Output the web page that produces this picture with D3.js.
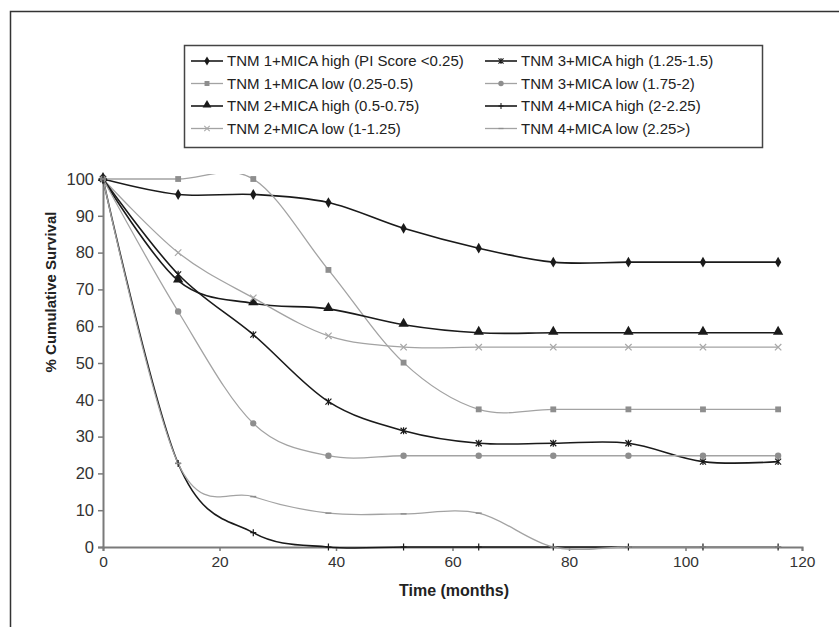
<!DOCTYPE html>
<html>
<head>
<meta charset="utf-8">
<script src="https://cdn.jsdelivr.net/npm/d3@7"></script>
<style>
  html, body { margin: 0; padding: 0; background: #fff; }
  svg { display: block; font-family: "Liberation Sans", Arial, sans-serif; }
</style>
</head>
<body>
<svg id="chart" width="839" height="627"></svg>
<script>
// Follow-up times (months)
const months = [0, 12.9, 25.8, 38.7, 51.6, 64.5, 77.3, 90.2, 103, 115.9];

// Cumulative survival (%) per PI score group
const tnm1High = [100, 95.8, 95.8, 93.6, 86.6, 81.2, 77.4, 77.4, 77.4, 77.4];
const tnm1Low  = [100, 100, 100, 75.3, 50.1, 37.4, 37.4, 37.4, 37.4, 37.4];
const tnm2High = [100, 72.4, 66.2, 64.7, 60.4, 58.2, 58.2, 58.2, 58.2, 58.2];
const tnm2Low  = [100, 80.0, 67.7, 57.4, 54.3, 54.3, 54.3, 54.3, 54.3, 54.3];
const tnm3High = [100, 74.1, 57.7, 39.5, 31.6, 28.2, 28.2, 28.2, 23.2, 23.2];
const tnm3Low  = [100, 64.0, 33.6, 24.8, 24.8, 24.8, 24.8, 24.8, 24.8, 24.8];
const tnm4High = [100, 22.7, 3.9, 0, 0, 0, 0, 0, 0, 0];
const tnm4Low  = [100, 22.7, 13.7, 9.2, 9.0, 9.2, 0, 0, 0, 0];

const seriesNames = [
  "TNM 1+MICA high (PI Score <0.25)",
  "TNM 1+MICA low (0.25-0.5)",
  "TNM 2+MICA high (0.5-0.75)",
  "TNM 2+MICA low (1-1.25)",
  "TNM 3+MICA high (1.25-1.5)",
  "TNM 3+MICA low (1.75-2)",
  "TNM 4+MICA high (2-2.25)",
  "TNM 4+MICA low (2.25>)"
];
const seriesValues = [tnm1High, tnm1Low, tnm2High, tnm2Low, tnm3High, tnm3Low, tnm4High, tnm4Low];
const markerKinds = ["diamond", "square", "triangle", "x", "star", "circle", "plus", "dash"];

const xTicks = [0, 20, 40, 60, 80, 100, 120];
const yTicks = [0, 10, 20, 30, 40, 50, 60, 70, 80, 90, 100];

const BLACK = "#1a1a1a";
const GRAY_LINE = "#a3a3a3";
const GRAY_MARK = "#8e8e8e";
const isDark = i => i % 2 === 0;

const svg = d3.select("#chart");

// outer frame (top and left edges)
svg.append("path")
  .attr("d", "M10.5,627 L10.5,11.5 L839,11.5")
  .attr("fill", "none").attr("stroke", "#333").attr("stroke-width", 1.5);

const x = d3.scaleLinear().domain([0, 120]).range([103, 802]);
const y = d3.scaleLinear().domain([0, 100]).range([547, 179]);

// clipping region for the smoothed curves
svg.append("defs").append("clipPath").attr("id", "plotClip")
  .append("rect").attr("x", x(0)).attr("y", 174)
  .attr("width", x(120) - x(0) + 4).attr("height", y(0) - 174 + 3);

// axes
const axisColor = "#7a7a7a";
const xAxis = svg.append("g").attr("transform", `translate(0,${y(0)})`)
  .call(d3.axisBottom(x).tickValues(xTicks).tickSize(4).tickPadding(5));
const yAxis = svg.append("g").attr("transform", `translate(${x(0)},0)`)
  .call(d3.axisLeft(y).tickValues(yTicks).tickSize(5).tickPadding(4));
[xAxis, yAxis].forEach(a => {
  a.select(".domain").attr("stroke", axisColor).attr("stroke-width", 2);
  a.selectAll(".tick line").attr("stroke", axisColor).attr("stroke-width", 1.5);
  a.selectAll(".tick text").attr("fill", "#333")
    .style("font-family", "'Liberation Sans', Arial, sans-serif");
});
xAxis.selectAll(".tick text").style("font-size", "15.5px");
yAxis.selectAll(".tick text").style("font-size", "16.5px");

// axis titles
svg.append("text")
  .attr("x", 454).attr("y", 596)
  .attr("text-anchor", "middle")
  .style("font-size", "16px").style("font-weight", "bold").attr("fill", "#222")
  .text("Time (months)");
svg.append("text")
  .attr("transform", "translate(56,292) rotate(-90)")
  .attr("text-anchor", "middle")
  .style("font-size", "15px").style("font-weight", "bold").attr("fill", "#222")
  .text("% Cumulative Survival");

// marker shapes
function drawMarker(g, kind, cx, cy, dark, scale = 1) {
  const col = dark ? BLACK : GRAY_MARK;
  const t = `translate(${cx},${cy}) scale(${scale})`;
  switch (kind) {
    case "diamond":
      g.append("path").attr("transform", t).attr("d", d3.symbol(d3.symbolDiamond, 34)())
        .attr("fill", col); break;
    case "square":
      g.append("path").attr("transform", t).attr("d", d3.symbol(d3.symbolSquare, 34)())
        .attr("fill", col); break;
    case "triangle":
      g.append("path").attr("transform", `translate(${cx},${cy - 1}) scale(${scale})`)
        .attr("d", d3.symbol(d3.symbolTriangle, 46)()).attr("fill", col); break;
    case "circle":
      g.append("path").attr("transform", t).attr("d", d3.symbol(d3.symbolCircle, 32)())
        .attr("fill", col); break;
    case "x":
      g.append("path").attr("transform", t).attr("d", "M-3.2,-3.2L3.2,3.2M-3.2,3.2L3.2,-3.2")
        .attr("stroke", "#a8a8a8").attr("stroke-width", 1.2).attr("fill", "none"); break;
    case "star":
      g.append("path").attr("transform", t).attr("d", "M-3,-3L3,3M-3,3L3,-3M0,-3.5L0,3.5")
        .attr("stroke", col).attr("stroke-width", 1.2).attr("fill", "none"); break;
    case "plus":
      g.append("path").attr("transform", t).attr("d", "M0,-3.5L0,3.5M-3,0L3,0")
        .attr("stroke", col).attr("stroke-width", 1.2).attr("fill", "none"); break;
    case "dash":
      g.append("path").attr("transform", t).attr("d", "M-3,0L3,0")
        .attr("stroke", GRAY_MARK).attr("stroke-width", 1.5).attr("fill", "none"); break;
  }
}

// smoothed survival curves
const line = d3.line()
  .x((d, i) => x(months[i]))
  .y(d => y(d))
  .curve(d3.curveCardinal.tension(0));

const plot = svg.append("g");
const curves = plot.append("g").attr("clip-path", "url(#plotClip)");
seriesValues.forEach((vals, s) => {
  curves.append("path")
    .attr("d", line(vals))
    .attr("fill", "none")
    .attr("stroke", isDark(s) ? BLACK : GRAY_LINE)
    .attr("stroke-width", isDark(s) ? 1.6 : 1.3);
});
seriesValues.forEach((vals, s) => {
  const mg = plot.append("g");
  vals.forEach((v, i) => drawMarker(mg, markerKinds[s], x(months[i]), y(v), isDark(s)));
});

// legend
const legend = svg.append("g");
legend.append("rect")
  .attr("x", 184.5).attr("y", 45.5).attr("width", 578).attr("height", 102)
  .attr("fill", "#fff").attr("stroke", "#444").attr("stroke-width", 1.5);
const colX = [191, 485];
const rowY = [61, 83.5, 106, 128.5];
seriesNames.forEach((name, s) => {
  const col = s < 4 ? 0 : 1;
  const row = s % 4;
  const lx = colX[col], ly = rowY[row];
  const g = legend.append("g");
  g.append("line").attr("x1", lx).attr("x2", lx + 32).attr("y1", ly).attr("y2", ly)
    .attr("stroke", isDark(s) ? BLACK : GRAY_LINE).attr("stroke-width", isDark(s) ? 1.6 : 1.3);
  drawMarker(g, markerKinds[s], lx + 16, ly, isDark(s), 0.85);
  g.append("text").attr("x", lx + 36).attr("y", ly).attr("dy", "0.36em")
    .style("font-size", "15px").attr("fill", "#222")
    .text(name);
});
</script>
</body>
</html>
